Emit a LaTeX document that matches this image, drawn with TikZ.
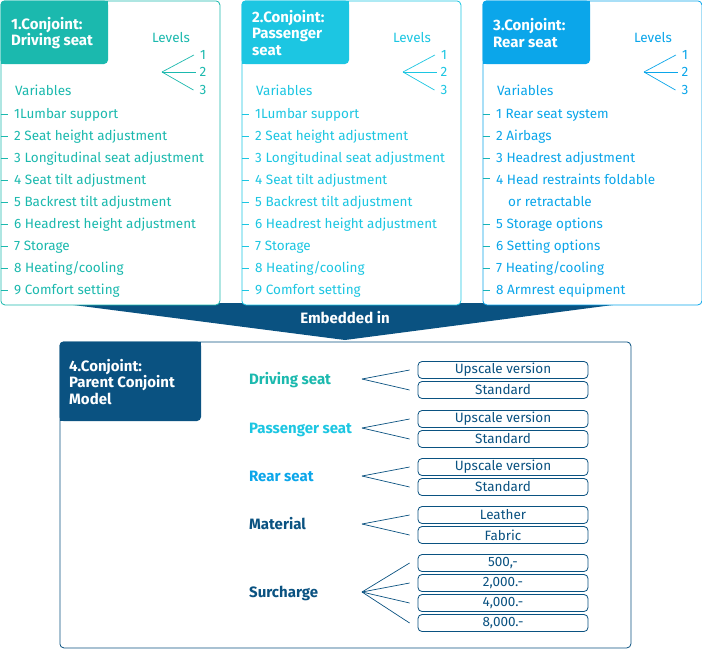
\documentclass[tikz,border=0pt]{standalone}
\usepackage{fontspec}
\setmainfont{Fira Sans}
\usetikzlibrary{positioning}

\definecolor{tealone}{HTML}{1BB9AE}
\definecolor{cyantwo}{HTML}{1CC6E2}
\definecolor{bluethree}{HTML}{0BA6EA}
\definecolor{tickthree}{HTML}{17B3B8}
\definecolor{navyfour}{HTML}{0A5281}

\newcommand{\itemfont}{\fontsize{13.5}{15}\selectfont}
\newcommand{\headfont}{\bfseries\fontsize{15}{16.3}\selectfont}

\begin{document}
\begin{tikzpicture}[x=1pt,y=-1pt,
    frame/.style={draw,line width=0.8pt,rounded corners=4pt,fill=white,anchor=north west,inner sep=0pt},
    tabtext/.style={text=white,font=\headfont,align=left,anchor=west,inner sep=0pt},
    varitem/.style={anchor=base west,inner sep=0pt,font=\itemfont},
    lvl/.style={inner sep=0pt,font=\itemfont},
    fan/.style={line width=0.7pt},
    seatlabel/.style={anchor=base west,inner sep=0pt,font=\headfont},
    option/.style={draw=navyfour,line width=0.8pt,rounded corners=4pt,fill=white,
      minimum width=170pt,minimum height=17pt,inner sep=0pt,text=navyfour,font=\itemfont}]

  \useasboundingbox (0,0) rectangle (702,649);

  % banner behind the three boxes
  \fill[navyfour] (58,303) -- (628,303) -- (345,340) -- cycle;
  \node[text=white,font=\headfont] (embedded) at (345,318) {Embedded in};

  % the three sub-conjoints
  \foreach \bx/\col/\k/\ttl in {0/tealone/1/{1.Conjoint:\\Driving seat},
                                241/cyantwo/2/{2.Conjoint:\\Passenger\\seat},
                                482/bluethree/3/{3.Conjoint:\\Rear seat}}{
    \begin{scope}[shift={(\bx,0)}]
      \node[frame,draw=\col,minimum width=219pt,minimum height=304pt] (box\k) at (0.5,0.5) {};
      \fill[\col,rounded corners=4pt] (0.5,0.5) rectangle (108,64);
      \fill[\col] (100,0.5) rectangle (108,8);
      \fill[\col] (0.5,56) rectangle (8,64);
      \node[tabtext] (title\k) at (11,33) {\ttl};
      \node[lvl,text=\col] (levels\k) at (171,38) {Levels};
      \node[lvl,text=\col] (lva\k) at (203,55) {1};
      \node[lvl,text=\col] (lvb\k) at (203,72) {2};
      \node[lvl,text=\col] (lvc\k) at (203,90) {3};
      \coordinate (apex\k) at (162,72);
      \draw[fan,\col] (apex\k) -- ([xshift=-6pt]lva\k.west);
      \draw[fan,\col] (apex\k) -- ([xshift=-3pt]lvb\k.west);
      \draw[fan,\col] (apex\k) -- ([xshift=-6pt]lvc\k.west);
      \node[varitem,text=\col] (vars\k) at (15,95) {Variables};
    \end{scope}
  }

  % variables of driving and passenger seat
  \foreach \bx/\col/\k in {0/tealone/1, 241/cyantwo/2}{
    \foreach \txt [count=\i] in {1Lumbar support, 2 Seat height adjustment,
        3 Longitudinal seat adjustment, 4 Seat tilt adjustment,
        5 Backrest tilt adjustment, 6 Headrest height adjustment,
        7 Storage, 8 Heating/cooling, 9 Comfort setting}{
      \node[varitem,text=\col] (var\k-\i) at (\bx+14,96+22*\i) {\txt};
      \draw[\col,line width=0.8pt] (box\k.west |- var\k-\i.west) -- ++(7,0);
    }
  }

  % variables of rear seat
  \foreach \yy/\txt [count=\i] in {113/{1 Rear seat system}, 135/{2 Airbags},
      157/{3 Headrest adjustment}, 179/{4 Head restraints foldable},
      223/{5 Storage options}, 245/{6 Setting options},
      267/{7 Heating/cooling}, 289/{8 Armrest equipment}}{
    \node[varitem,text=bluethree] (var3-\i) at (496,\yy+5) {\txt};
    \draw[tickthree,line width=0.8pt] (box3.west |- var3-\i.west) -- ++(7,0);
  }
  \node[varitem,text=bluethree] (var3-wrap) at (508,206) {or retractable};

  % parent conjoint model
  \node[frame,draw=navyfour,minimum width=571pt,minimum height=306pt] (box4) at (59.5,341.5) {};
  \fill[navyfour,rounded corners=4pt] (59.5,341.5) rectangle (201,421);
  \fill[navyfour] (193,341.5) rectangle (201,349);
  \fill[navyfour] (59.5,413) rectangle (67,421);
  \node[tabtext] (title4) at (69,382) {4.Conjoint:\\Parent Conjoint\\Model};

  \node[seatlabel,text=tealone] (drv) at (249,384.5) {Driving seat};
  \node[seatlabel,text=cyantwo] (psg) at (249,433.5) {Passenger seat};
  \node[seatlabel,text=bluethree] (rear) at (249,481.5) {Rear seat};
  \node[seatlabel,text=navyfour] (mat) at (249,529.5) {Material};
  \node[seatlabel,text=navyfour] (sur) at (249,597.5) {Surcharge};

  \node[option] (drvup) at (503,370) {Upscale version};
  \node[option] (drvst) at (503,390) {Standard};
  \node[option] (psgup) at (503,419) {Upscale version};
  \node[option] (psgst) at (503,439) {Standard};
  \node[option] (rearup) at (503,467) {Upscale version};
  \node[option] (rearst) at (503,487) {Standard};
  \node[option] (matle) at (503,515) {Leather};
  \node[option] (matfa) at (503,535) {Fabric};
  \node[option] (sura) at (503,563) {500,-};
  \node[option] (surb) at (503,583) {2,000.-};
  \node[option] (surc) at (503,603) {4,000.-};
  \node[option] (surd) at (503,623) {8,000.-};

  \foreach \nm/\yy in {drv/379, psg/428, rear/476, mat/524}{
    \coordinate (\nm apex) at (362,\yy);
  }
  \coordinate (surapex) at (362,592);
  \foreach \nm/\opt in {drv/drvup, drv/drvst, psg/psgup, psg/psgst, rear/rearup, rear/rearst,
      mat/matle, mat/matfa, sur/sura, sur/surb, sur/surc, sur/surd}{
    \draw[fan,navyfour] (\nm apex) -- ([xshift=-8pt]\opt.west);
  }
\end{tikzpicture}
\end{document}
